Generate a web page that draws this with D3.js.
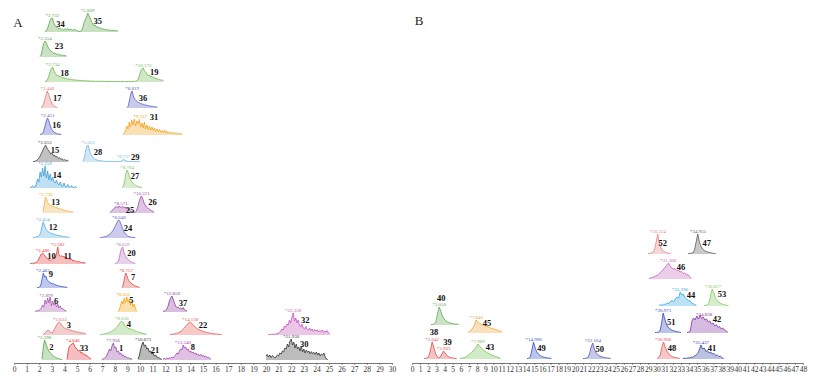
<!DOCTYPE html>
<html><head><meta charset="utf-8">
<script src="https://cdn.jsdelivr.net/npm/d3@7"></script>
<style>body{margin:0;background:#fff}svg{display:block}</style>
</head><body><svg id="c" width="817" height="382"></svg>
<script>
// ---------- DATA (intensity samples, arbitrary units; time in min) ----------
// Panel A signals (sampled every 0.1 min)
const s34_35 = [2,5,15,35,55,68,70,45,35,26,22,16,18,12,14,10,16,12,18,10,14,12,9,13,10,8,6,3,2,5,20,45,60,75,95,82,70,52,42,32,34,24,26,19,21,15,17,12,14,10,12,8,10,7,9,6,8,5,6];
const s23 = [3,10,40,70,80,72,55,42,35,28,24,18,20,14,15,10,12,8,9,6,7,5];
const s18_19 = [2,4,12,30,50,65,75,58,45,38,30,32,24,26,20,22,17,19,14,16,12,14,10,12,9,10,8,9,7,8,6,7,5,6,5,5,4,5,4,4,3,4,3,3,4,3,3,2,3,3,2,3,2,2,3,2,2,2,3,2,2,2,3,2,2,2,3,2,2,2,3,3,4,6,15,35,55,65,70,55,48,40,32,35,25,28,20,22,15,17,12,13,9,10,7];
const s17 = [2,6,18,40,65,85,70,50,32,20,12,7,4,2];
const s36 = [2,10,40,70,85,60,45,38,32,28,25,22,20,18,16,14,13,12,10,9,8,7,6,5,5];
const s16 = [2,4,8,20,45,70,85,72,50,32,22,15,11,8,6,5,4,3];
const s31 = [3,8,20,45,30,65,40,75,50,80,45,70,55,78,40,60,35,65,30,50,28,45,25,40,22,35,18,30,15,28,14,22,12,25,10,18,9,16,8,14,7,12,6,10,5,8,4,5];
const s15 = [2,3,5,8,14,22,35,48,62,75,85,70,60,52,40,45,32,35,25,28,18,22,14,16,10,12,8,9,6];
const s28_29 = [3,20,55,80,85,60,40,30,22,16,12,10,8,7,6,5,4,4,3,3,3,3,2,2,2,3,2,2,3,2,3,6,14,10,6,4,3,3,2,3,2,2,3,2,2,2];
const s14 = [2,3,12,3,4,20,45,30,80,55,100,60,110,50,85,40,70,35,55,30,25,40,20,15,30,10,8,25,6,5,18,4,4,12,3,3,8,2];
const s27 = [2,8,30,70,90,75,55,40,30,22,16,12,9,7,5,4,3];
const s13 = [5,40,80,65,50,42,38,35,30,32,26,28,22,24,18,20,15,14,12,10,9,8,6,5,4];
const s25_26 = [3,8,15,22,28,32,25,35,30,28,34,26,30,22,25,18,12,8,6,5,4,10,30,55,75,85,70,50,40,30,25,20,15,12,8,5];
const s12 = [2,3,4,6,8,12,25,55,80,65,48,38,32,28,25,22,20,18,16,14,13,12,10,9,8,7,6,5,4,3];
const s24 = [2,3,4,5,7,9,12,16,21,28,36,46,58,72,85,90,80,62,45,32,22,15,10,7,5,4,3,3,2];
const s10_11 = [2,3,4,3,6,8,14,25,38,50,55,48,40,32,25,22,18,20,25,35,30,50,85,45,38,42,35,40,30,34,25,28,20,24,15,18,12,14,10,12,8,9,6,7,4];
const s20 = [2,4,8,20,50,75,85,60,42,32,25,19,14,10,7,5,3];
const s9 = [2,3,5,15,45,75,55,60,40,35,28,25,20,22,16,15,12,11,9,8,7,6,5,4,3];
const s7 = [3,15,50,75,60,42,32,25,20,16,12,9,7,5,3];
const s6 = [3,5,8,6,12,20,35,25,60,40,70,45,75,30,55,35,45,25,40,20,30,15,18,10,8,5];
const s5 = [3,10,30,55,40,70,45,75,50,65,35,55,25,40,12,4];
const s37 = [3,5,8,15,30,55,70,80,65,45,30,22,25,18,20,14,22,10,8,5];
const s3 = [2,6,12,20,25,20,14,10,15,28,40,52,60,65,58,48,40,35,30,32,26,28,22,24,18,20,15,16,12,13,10,11,8,9,6];
const s4 = [2,3,4,5,6,8,10,12,14,18,22,26,32,38,45,55,62,70,65,55,45,40,35,30,32,26,28,22,20,18,15,14,12,10,8,7,5,4];
const s22 = [2,3,4,5,6,8,10,13,16,20,26,32,40,48,55,62,65,60,52,45,40,35,30,27,24,21,18,16,14,12,11,10,9,8,7,6,5,5,4,3,3,2];
const s32 = [2,3,2,4,3,5,4,8,6,12,20,30,25,45,38,55,50,75,60,90,110,70,85,60,75,50,40,55,35,30,42,28,25,35,22,30,18,28,20,26,15,22,18,25,12,20,15,22,10,5];
const s2 = [5,60,100,85,65,50,40,32,26,20,16,12,9,7,5,3,2];
const s33 = [3,50,70,75,80,85,70,60,55,45,48,35,38,28,30,20,22,14,10,5];
const s1 = [3,5,8,15,25,40,55,45,70,85,60,65,40,45,30,35,22,25,15,18,10,12,6,8,3];
const s21 = [5,20,50,75,90,70,75,55,60,40,45,30,35,20,25,15,12,10,6,3];
const s8 = [5,8,4,10,6,12,8,14,10,18,25,35,30,45,55,50,75,60,65,50,55,40,45,35,40,30,35,25,30,20,28,18,24,15,20,12,15,8,5];
const s30 = [20,28,15,25,12,22,18,10,15,25,20,35,30,45,40,60,55,80,65,95,105,75,90,60,80,55,65,45,70,40,55,35,50,38,45,30,42,32,38,28,40,25,35,20,30,25,35,15,5,2];
// Panel B signals (sampled every 0.2 min)
const s52 = [2,3,5,8,20,60,100,55,30,18,12,8,5,3,2];
const s47 = [2,3,4,6,20,60,100,60,38,25,18,13,10,8,6,4,3,2];
const s46 = [3,5,8,10,14,18,25,32,40,50,60,70,80,65,55,50,52,42,45,35,38,28,30,20,22,12,5];
const s44 = [3,6,4,10,8,15,12,22,28,20,35,45,40,70,55,60,42,35,25,28,15,12,6,3];
const s53 = [2,3,5,15,50,85,65,40,28,20,15,10,8,5,3,2];
const s51 = [2,3,4,10,45,100,70,45,30,22,16,12,10,8,6,4,2];
const s42 = [3,5,8,60,75,65,85,70,90,72,80,65,70,55,60,45,50,35,42,28,32,20,25,15,10,5];
const s48 = [3,8,20,60,85,60,40,28,20,14,10,8,6,4,3];
const s41 = [2,4,3,6,5,10,8,15,20,28,45,70,50,55,38,42,30,35,25,28,18,20,12,14,6,3];
const s40 = [2,3,5,15,55,90,70,45,30,22,16,12,10,8,6,5,4,3];
const s45 = [3,8,15,25,40,65,55,48,45,40,38,34,32,28,25,22,20,17,14,11,8,4];
const s38_39 = [2,3,5,15,45,85,60,30,12,6,10,25,40,30,18,12,8,6,4,3,2];
const s43 = [3,4,5,8,12,18,25,32,40,50,62,75,65,55,48,40,35,30,26,22,18,15,12,9,6,3];
const s49 = [2,4,10,45,85,55,35,25,18,13,10,8,6,5,4,3];
const s50 = [2,3,4,8,25,60,80,50,32,22,16,12,10,8,6,5,4,3];

// trace table pieces
const traceSignals = [s34_35,s23,s18_19,s17,s36,s16,s31,s15,s28_29,s14,s27,s13,s25_26,s12,s24,s10_11,s20,s9,s7,s6,s5,s37,s3,s4,s22,s32,s2,s33,s1,s21,s8,s30,
  s52,s47,s46,s44,s53,s51,s42,s48,s41,s40,s45,s38_39,s43,s49,s50];
const tracePanel = ["A","A","A","A","A","A","A","A","A","A","A","A","A","A","A","A","A","A","A","A","A","A","A","A","A","A","A","A","A","A","A","A",
  "B","B","B","B","B","B","B","B","B","B","B","B","B","B","B"];
const traceLane = [0,1,2,3,3,4,4,5,5,6,6,7,7,8,8,9,9,10,10,11,11,11,12,12,12,12,13,13,13,13,13,13,
  0,0,1,2,2,4,4,5,5,3,4,5,5,5,5];
const traceStart = [2.45,2.06,2.46,2.14,8.97,2.06,8.65,1.51,5.48,1.27,8.57,2.30,7.62,1.51,6.83,1.27,8.02,1.83,8.57,1.67,8.25,11.83,2.30,6.83,12.38,20.16,2.22,4.21,6.98,9.84,11.83,20.0,
  28.97,33.88,29.09,30.32,35.85,29.83,33.76,30.08,33.27,2.33,6.87,1.47,5.89,14.12,20.99];
const sampleStep = {A:0.1, B:0.2};

// peak annotations
const peakNum  = [34,35,23,18,19,17,36,16,31,15,28,29,14,27,13,25,26,12,24,10,11,20,9,7,6,5,37,3,4,22,32,2,33,1,21,8,30,
  52,47,46,44,53,51,42,48,41,40,45,38,39,43,49,50];
const peakRT   = ["2.732","5.809","2.354","2.734","10.173","2.448","8.819","2.451","9.337","2.652","5.053","8.737","2.259","8.784","2.738","8.571","10.221","2.454","8.648","2.486","3.582","8.659","2.463","8.757","2.899","8.632","12.850","3.633","8.616","14.138","22.330","2.398","4.846","7.956","10.671","13.340","21.930",
  "30.224","34.955","31.366","33.396","36.827","30.971","34.838","30.906","35.437","3.050","7.840","2.642","3.903","7.989","14.996","22.164"];
const peakTrace = [0,0,1,2,2,3,4,5,6,7,8,8,9,10,11,12,12,13,14,15,15,16,17,18,19,20,21,22,23,24,25,26,27,28,29,30,31,
  32,33,34,35,36,37,38,39,40,41,42,43,43,44,45,46];
const peakTime = [3.05,5.85,2.46,3.06,10.26,2.64,9.37,2.66,10.0,2.46,5.87,8.68,2.46,8.97,2.50,8.49,10.12,2.30,8.33,2.27,3.47,8.62,2.30,8.89,2.54,8.69,12.54,3.65,8.57,13.97,22.16,2.42,4.68,7.86,10.24,13.41,22.0,
  30.17,35.08,31.43,32.9,36.95,30.83,35.85,30.82,35.47,3.33,7.87,2.47,3.87,8.09,14.92,22.19];

const ticksA = d3.range(0,31);
const ticksB = d3.range(0,49);

// ---------- LAYOUT / STYLE ----------
const laneBaseA = [32,57,82,108,135,162,188,213,238,264,288,312,335,360];
const laneBaseB = [254,279,306,325,333,359];
const traceColor = ["#5aa84a","#5aa84a","#6cb84e","#e07b7b","#5a5fc2","#5058c4","#f2a11e","#444444","#73b6e2","#3d9ddb","#88c46a","#f0ad45","#9c4aa8","#55ace2","#6264c4","#e63a3a","#b674c4","#3a54c4","#e24848","#a453b2","#f2a20a","#8b3a98","#d96a6a","#7cc25e","#e65a5a","#c653bb","#52a645","#e33b3b","#9242a2","#2a2a2a","#a444aa","#333333",
  "#e38585","#5a5a5a","#c462c2","#34aae2","#82c862","#3349ba","#8432a2","#e45454","#3442a4","#5fa84f","#f0a232","#e44a4a","#74c256","#3352c2","#5058b8"];
const numOffset = [[8,6],[10,8],[14,5],[12,6],[11,4],[10,7],[11,7],[9,7],[14,-2],[10,5],[10,7],[12,-2],[12,9],[8,6],[10,5],[9,4],[11,6],[10,5],[9,8],[9,3],[10,9],[9,6],[8,1],[7,4],[10,3],[8,3],[11,7],[9,3],[7,3],[13,3],[12,7],[7,7],[11,5],[8,5],[12,8],[10,2],[13,5],
  [5,9],[9,9],[13,4],[11,3],[9,5],[8,9],[13,2],[9,6],[11,3],[2,-9],[11,3],[2,-10],[4,-9],[12,3],[8,6],[7,6]];

const svg = d3.select("#c");
const xA = d3.scaleLinear().domain([0,30]).range([14,392]);
const xB = d3.scaleLinear().domain([0,48]).range([412,803]);
const yLaneA = d3.scaleOrdinal().domain(d3.range(laneBaseA.length)).range(laneBaseA);
const yLaneB = d3.scaleOrdinal().domain(d3.range(laneBaseB.length)).range(laneBaseB);
const amp = d3.scaleLinear().domain([0,100]).range([0,20]);
const font = "'Liberation Serif','Times New Roman',serif";

function traceInfo(i){
  const p = tracePanel[i];
  const x = p==="A"?xA:xB;
  const base = (p==="A"?yLaneA:yLaneB)(traceLane[i]);
  const step = sampleStep[p];
  const pts = traceSignals[i].map((v,k)=>({t:traceStart[i]+k*step, v}));
  return {x, base, step, pts};
}

const gTr = svg.append("g");
traceSignals.forEach((s,i)=>{
  const {x,base,pts} = traceInfo(i);
  const area = d3.area().x(d=>x(d.t)).y0(base).y1(d=>base-amp(d.v));
  const line = d3.line().x(d=>x(d.t)).y(d=>base-amp(d.v));
  gTr.append("path").attr("d",area(pts)).attr("fill",traceColor[i]).attr("fill-opacity",0.33);
  gTr.append("path").attr("d",line(pts)).attr("fill","none").attr("stroke",traceColor[i]).attr("stroke-width",0.8).attr("stroke-linejoin","round");
});

const gLab = svg.append("g");
peakNum.forEach((n,j)=>{
  const i = peakTrace[j];
  const {x,base,pts} = traceInfo(i);
  const t = peakTime[j];
  const win = pts.filter(d=>Math.abs(d.t-t)<=0.3);
  const vmax = d3.max(win,d=>d.v) || 0;
  const ax = x(t), ay = base-amp(vmax);
  gLab.append("text").attr("x",ax).attr("y",ay-1.2).attr("text-anchor","middle")
    .attr("font-family",font).attr("font-size",5).attr("fill",traceColor[i]).text("*"+peakRT[j]);
  gLab.append("text").attr("x",ax+numOffset[j][0]).attr("y",ay+numOffset[j][1]).attr("text-anchor","middle")
    .attr("dominant-baseline","central").attr("font-family",font).attr("font-weight","bold")
    .attr("font-size",8.5).attr("fill","#111").text(n);
});

function drawAxis(scale,ticks){
  const g = svg.append("g").attr("transform","translate(0,363)")
    .call(d3.axisBottom(scale).tickValues(ticks).tickSize(2).tickSizeOuter(0).tickPadding(2).tickFormat(d3.format("d")));
  g.select(".domain").attr("stroke","#555").attr("stroke-width",0.8);
  g.selectAll(".tick line").attr("stroke","#555").attr("stroke-width",0.6);
  g.selectAll(".tick text").attr("font-family",font).attr("font-size",7.5).attr("fill","#333");
}
drawAxis(xA,ticksA);
drawAxis(xB,ticksB);

svg.append("text").attr("x",18).attr("y",27).attr("text-anchor","middle").attr("font-family",font).attr("font-size",13).attr("fill","#222").text("A");
svg.append("text").attr("x",419).attr("y",25).attr("text-anchor","middle").attr("font-family",font).attr("font-size",13).attr("fill","#222").text("B");
</script></body></html>
